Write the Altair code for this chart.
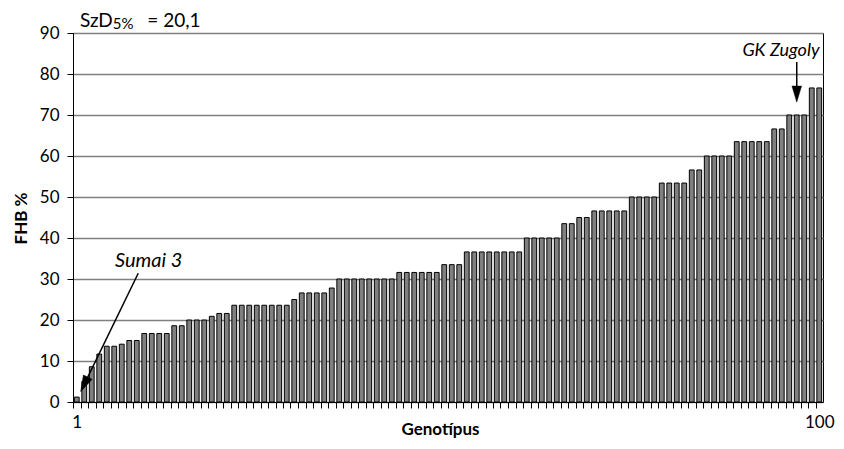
import altair as alt
import pandas as pd

# ---- data ----
genotypes = list(range(1, 101))
fhb = [1.2, 5.0, 8.6, 11.7, 13.6, 13.6, 14.1, 15.0, 15.0,
       16.7, 16.7, 16.7, 16.7, 18.6, 18.6, 20.0, 20.0, 20.0, 20.9, 21.6, 21.6,
       23.6, 23.6, 23.6, 23.6, 23.6, 23.6, 23.6, 23.6, 25.0,
       26.6, 26.6, 26.6, 26.6, 27.8,
       30.0, 30.0, 30.0, 30.0, 30.0, 30.0, 30.0, 30.0,
       31.6, 31.6, 31.6, 31.6, 31.6, 31.6, 33.5, 33.5, 33.5,
       36.6, 36.6, 36.6, 36.6, 36.6, 36.6, 36.6, 36.6,
       40.0, 40.0, 40.0, 40.0, 40.0, 43.5, 43.5, 45.0, 45.0,
       46.6, 46.6, 46.6, 46.6, 46.6, 50.0, 50.0, 50.0, 50.0,
       53.4, 53.4, 53.4, 53.4, 56.6, 56.6, 60.0, 60.0, 60.0, 60.0,
       63.5, 63.5, 63.5, 63.5, 63.5, 66.6, 66.6, 70.0, 70.0, 70.0,
       76.6, 76.6]
y_ticks = [0, 10, 20, 30, 40, 50, 60, 70, 80, 90]

# annotation texts and anchor points (data units)
ann_labels = ["Sumai 3", "GK Zugoly"]
ann_x = [10.6, 94.9]
ann_y = [34.4, 85.6]
ann_sizes = [20, 18]
sumai_arrow = [9.2, 31.4, 2.0, 4.3]   # x, y, x2, y2
gk_arrow = [97.0, 82.9, 97.0, 75.1]
szd_parts = ["SzD", "5%", "= 20,1"]
szd_pos = [[1.43, 91.4], [5.8, 90.9], [10.4, 91.4]]
szd_sizes = [19, 15, 19]

FONT = "Lato"

df = pd.DataFrame({"g": genotypes, "v": fhb})
df["x0"] = df["g"] - 0.32
df["x1"] = df["g"] + 0.32
df["base"] = 0

xscale = alt.Scale(domain=[0.5, 100.5], nice=False, zero=False)
yscale = alt.Scale(domain=[0, 90], nice=False, zero=True)

tick_vals = [g - 0.5 for g in genotypes]

x_axis = alt.Axis(values=tick_vals, grid=False, tickSize=6, tickColor="black",
                  domainColor="black",
                  labelExpr="datum.value == 0.5 ? '1' : (datum.value == 99.5 ? '100' : '')",
                  labelOffset=3.75, labelOverlap=False, labelFlush=False, labelBound=False,
                  labelFontSize=17, labelFont=FONT, labelColor="black", labelPadding=6,
                  titleFont=FONT, titleFontSize=17, titleFontWeight="bold",
                  titleX=367, titleY=27, titleBaseline="middle", titleColor="black")
y_axis = alt.Axis(values=y_ticks, grid=True, gridColor="#808080", gridWidth=1.3,
                  tickSize=6, tickColor="black", domainColor="black",
                  labelFontSize=17, labelFont=FONT, labelColor="black", labelPadding=8,
                  titleFont=FONT, titleFontSize=17, titleFontWeight="bold",
                  titleAngle=270, titleX=-52, titleY=185, titleAlign="center",
                  titleBaseline="middle", titleColor="black")
XT = "Genotípus"
YT = "FHB %"


def X(f):
    return alt.X(f, scale=xscale, axis=x_axis, title=XT)


def Y(f):
    return alt.Y(f, scale=yscale, axis=y_axis, title=YT)


bars = alt.Chart(df).mark_bar(fill="#808080", stroke="black", strokeWidth=1).encode(
    x=X("x0:Q"), x2="x1:Q", y=Y("v:Q"), y2="base:Q",
)

ann = pd.DataFrame({"label": ann_labels, "x": ann_x, "y": ann_y, "s": ann_sizes})
ann_text = alt.Chart(ann).mark_text(fontStyle="italic", font=FONT, color="black",
                                    align="center", baseline="middle").encode(
    x=X("x:Q"), y=Y("y:Q"), text="label:N",
    size=alt.Size("s:Q", scale=None, legend=None),
)

arrows = pd.DataFrame({
    "x": [sumai_arrow[0], gk_arrow[0]],
    "y": [sumai_arrow[1], gk_arrow[1]],
    "x2": [sumai_arrow[2], gk_arrow[2]],
    "y2": [sumai_arrow[3], gk_arrow[3]],
})
arrow_lines = alt.Chart(arrows).mark_rule(color="black", strokeWidth=1.5).encode(
    x=X("x:Q"), y=Y("y:Q"), x2="x2:Q", y2="y2:Q",
)

head_shape = "M-0.6,-1 L0.6,-1 L0,1 Z"
heads_df = pd.DataFrame({"x": [sumai_arrow[2], gk_arrow[2]],
                         "y": [sumai_arrow[3], gk_arrow[3]],
                         "a": [26, 0]})
heads = alt.Chart(heads_df).mark_point(shape=head_shape, filled=True, fill="black",
                                       stroke="black", strokeWidth=0.5, opacity=1, size=256).encode(
    x=X("x:Q"), y=Y("y:Q"), angle=alt.Angle("a:Q", scale=None),
)

szd_df = pd.DataFrame({
    "t": szd_parts,
    "x": [p[0] for p in szd_pos],
    "y": [p[1] for p in szd_pos],
    "s": szd_sizes,
})
szd = alt.Chart(szd_df).mark_text(font=FONT, color="black", align="left", baseline="alphabetic").encode(
    x=X("x:Q"), y=Y("y:Q"), text="t:N",
    size=alt.Size("s:Q", scale=None, legend=None),
)

chart = alt.layer(bars, arrow_lines, heads, ann_text, szd).properties(
    width=750, height=369,
    autosize=alt.AutoSizeParams(type="none"),
    padding={"left": 65, "top": 25, "right": 13, "bottom": 39},
).configure_view(stroke="black", strokeWidth=1)

chart.save("out.html", embed_options={"renderer": "svg", "actions": False})
